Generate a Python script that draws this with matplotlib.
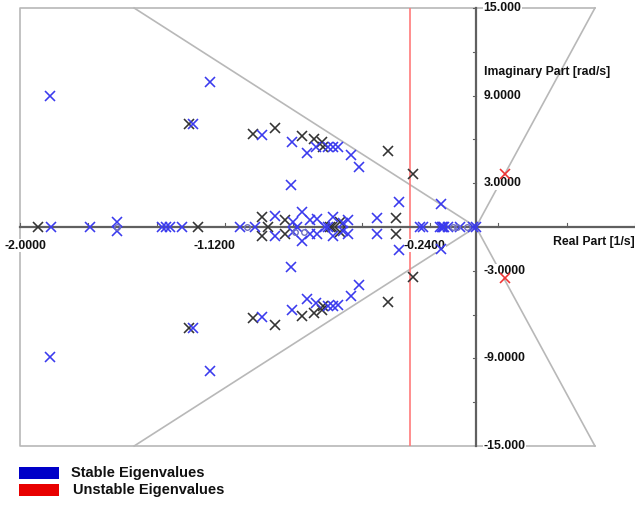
import matplotlib
matplotlib.use("Agg")
import matplotlib.pyplot as plt
from matplotlib.patches import Rectangle

# ---------------- data ----------------
# stable eigenvalues (blue)
stable_re = [-1.871, -1.871, -1.186, -1.186, -1.257, -1.257, -0.961, -0.961,
             -0.832, -0.832, -0.768, -0.768, -0.730, -0.730, -0.678, -0.678,
             -0.656, -0.656, -0.635, -0.635, -0.579, -0.579, -0.545, -0.545,
             -0.837, -0.837, -0.373, -0.373, -0.193, -0.193, -0.467, -0.467,
             -0.905, -0.905, -0.828, -0.828, -0.789, -0.789, -0.755, -0.755,
             -0.725, -0.725, -0.656, -0.656, -0.592, -0.592, -0.613, -0.613,
             -1.583, -1.583,
             -1.867, -1.699, -1.390, -1.373, -1.356, -1.304, -1.055, -0.991,
             -0.811, -0.691, -0.678, -0.283, -0.270, -0.197, -0.190, -0.185,
             -0.180, -0.163, -0.111, -0.056, -0.0426]
stable_im = [9.0, -8.9, 9.9, -9.85, 7.05, -6.9, 6.3, -6.15,
             5.85, -5.7, 5.1, -4.95, 5.45, -5.2, 5.5, -5.4,
             5.5, -5.4, 5.5, -5.35, 4.9, -4.75, 4.1, -4.0,
             2.9, -2.75, 1.72, -1.6, 1.6, -1.5, 0.62, -0.45,
             0.78, -0.65, 0.35, -0.35, 1.05, -0.95, 0.5, -0.45,
             0.55, -0.5, 0.7, -0.65, 0.5, -0.5, 0.3, -0.3,
             0.35, -0.3,
             0, 0, 0, 0, 0, 0, 0, 0,
             0, 0, 0, 0, 0, 0, 0, 0,
             0, 0, 0, 0, 0]

# other stable eigenvalues (dark grey)
other_re = [-1.274, -1.274, -1.000, -1.000, -0.905, -0.905, -0.789, -0.789,
            -0.738, -0.738, -0.704, -0.704, -0.699, -0.699, -0.420, -0.420,
            -0.313, -0.313, -0.386, -0.386, -0.961, -0.961, -0.862, -0.862,
            -0.626, -0.626,
            -1.922, -1.236, -0.935, -0.669, -0.660]
other_im = [7.05, -6.9, 6.4, -6.25, 6.8, -6.7, 6.2, -6.1,
            6.05, -5.9, 5.85, -5.7, 5.5, -5.4, 5.2, -5.15,
            3.6, -3.4, 0.62, -0.45, 0.7, -0.6, 0.5, -0.45,
            0.35, -0.35,
            0, 0, 0, 0, 0]

# unstable eigenvalues (red)
unstable_re = [0.082, 0.082]
unstable_im = [3.6, -3.5]

# small circles
zeros_re = [-1.583, -1.025, -0.82, -0.78, -0.141, -0.125, -0.081]
zeros_im = [0, 0, -0.35, -0.35, 0, 0, 0]

# axes / guide lines
x_min, x_max = -2.0, 0.64
y_min, y_max = -15.0, 15.0
axis_x = -0.0426          # position of the imaginary axis line
limit_x = -0.326          # red vertical limit line
cone_left_x = -1.51       # damping lines end (left)
cone_right_x = 0.468      # right polygon corner

x_tick_labels = ["-2.0000", "-1.1200", "-0.2400"]
x_tick_values = [-2.0, -1.12, -0.24]
x_minor_step = 0.29333
y_tick_labels = ["15.000", "9.0000", "3.0000", "-3.0000", "-9.0000", "-15.000"]
y_tick_values = [15, 9, 3, -3, -9, -15]
y_minor_step = 3

# ---------------- figure ----------------
W, H = 635, 505
fig = plt.figure(figsize=(W / 100, H / 100), dpi=100)
plt.rcParams['font.family'] = ['Liberation Sans', 'DejaVu Sans']
ax = fig.add_axes([20 / W, 59 / H, 615 / W, 438 / H])
ax.set_xlim(x_min, x_max)
ax.set_ylim(y_min, y_max)
ax.axis('off')

grey = '#b8b8b8'
# outer polygon frame
ax.plot([cone_right_x, x_min, x_min, cone_right_x],
        [y_max, y_max, y_min, y_min], color=grey, lw=1.2, clip_on=False, zorder=1)
ax.plot([cone_right_x, axis_x, cone_right_x], [y_max, 0, y_min],
        color=grey, lw=1.2, clip_on=False, zorder=1)
# damping lines
ax.plot([cone_left_x, axis_x, cone_left_x], [y_max, 0, y_min],
        color=grey, lw=1.2, clip_on=False, zorder=1)

# red limit line
ax.plot([limit_x, limit_x], [y_min, y_max], color='#ff7a7a', lw=1.2, zorder=2)

# axes
axc = '#606060'
ax.plot([x_min, x_max], [0, 0], color=axc, lw=1.6, clip_on=False, zorder=3)
ax.plot([axis_x, axis_x], [y_min, y_max], color=axc, lw=1.6, clip_on=False, zorder=3)
# ticks
xt = x_min
while xt <= x_max + 1e-6:
    ax.plot([xt, xt], [0, 0.3], color=axc, lw=0.8, zorder=3, clip_on=False)
    xt += x_minor_step
yt = y_min
while yt <= y_max + 1e-6:
    ax.plot([axis_x - 0.014, axis_x], [yt, yt], color=axc, lw=0.8, zorder=3)
    yt += y_minor_step

# tick labels
tfs = 8.8
bb = dict(facecolor='white', edgecolor='none', pad=0.5)
x_offsets_px = [5.5, -11, -5.5]
for v, lab, off in zip(x_tick_values, x_tick_labels, x_offsets_px):
    ax.annotate(lab, (v, 0), xytext=(off * 0.72, -13.5), textcoords='offset points',
                ha='center', va='center', fontsize=tfs, fontweight='bold', zorder=8,
                bbox=bb, color='#111111')
for v, lab in zip(y_tick_values, y_tick_labels):
    ax.annotate(lab, (axis_x, v), xytext=(5.5, 0), textcoords='offset points',
                ha='left', va='center', fontsize=tfs, fontweight='bold', zorder=8,
                bbox=bb, color='#111111')

ax.annotate('Real Part [1/s]', (x_max, 0), xytext=(0, -11), textcoords='offset points',
            ha='right', va='center', fontsize=tfs, fontweight='bold', color='#111111')
ax.annotate('Imaginary Part [rad/s]', (axis_x, 10.65), xytext=(5.8, 0),
            textcoords='offset points', ha='left', va='center', fontsize=tfs,
            fontweight='bold', color='#111111')

# markers (drawn above labels)
ms, mew = 6.5, 1.15
ax.plot(other_re, other_im, 'x', color='#333333', ms=ms, mew=mew, zorder=9, clip_on=False)
ax.plot(stable_re, stable_im, 'x', color='#3a3aee', ms=ms, mew=mew, zorder=10, clip_on=False)
ax.plot(unstable_re, unstable_im, 'x', color='#ee3333', ms=ms, mew=mew, zorder=10, clip_on=False)
ax.plot(zeros_re, zeros_im, 'o', mfc='none', mec='#7070c0', ms=4, mew=1, zorder=10)

# legend
fig.patches.append(Rectangle((19 / W, 26 / H), 40 / W, 12 / H, transform=fig.transFigure,
                             facecolor='#0000c8', edgecolor='none'))
fig.patches.append(Rectangle((19 / W, 9 / H), 40 / W, 12 / H, transform=fig.transFigure,
                             facecolor='#e80000', edgecolor='none'))
fig.text(71 / W, 32 / H, 'Stable Eigenvalues', ha='left', va='center', fontsize=10.5,
         fontweight='bold', color='#111111')
fig.text(73 / W, 15 / H, 'Unstable Eigenvalues', ha='left', va='center', fontsize=10.5,
         fontweight='bold', color='#111111')

fig.savefig('out.png', dpi=100, facecolor='white')
